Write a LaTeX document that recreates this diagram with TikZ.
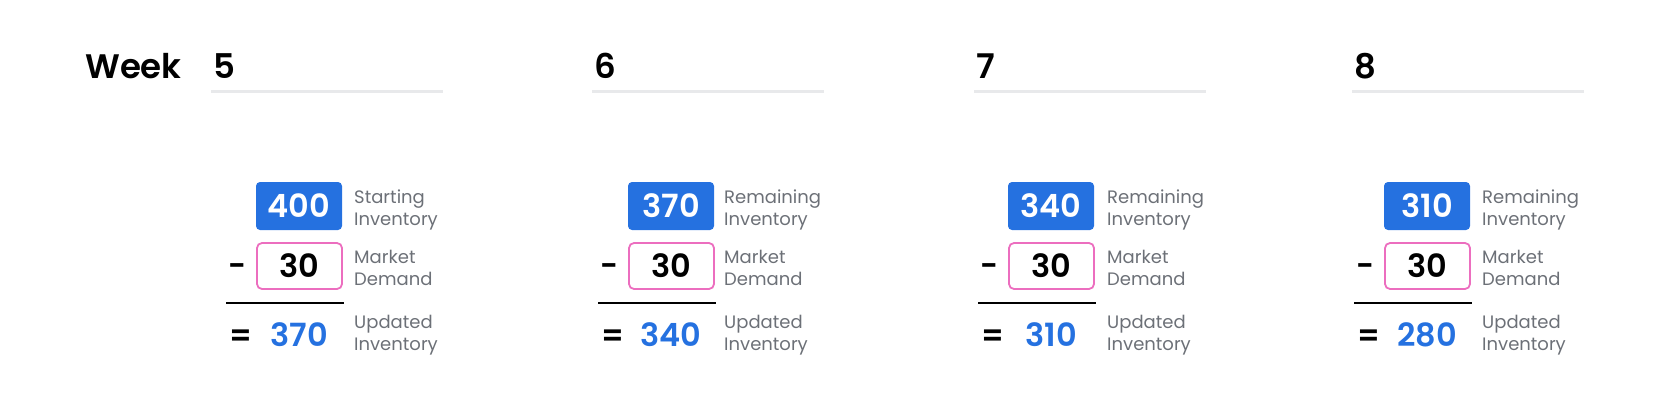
\documentclass[tikz,border=0pt]{standalone}
\usepackage{fontspec}
\setmainfont{Poppins}
\newfontfamily\numfont{Poppins SemiBold}
\definecolor{myblue}{HTML}{2571E0}
\definecolor{mypink}{HTML}{EC6EBF}
\definecolor{rulegray}{HTML}{E8E9EB}
\definecolor{lblgray}{HTML}{6C7077}
\begin{document}
\begin{tikzpicture}[x=1pt,y=-1pt,
  head/.style={font=\numfont\fontsize{34}{34}\selectfont, anchor=base west, inner sep=0pt},
  startbox/.style={fill=myblue, rounded corners=4pt, minimum width=86pt, minimum height=48pt,
    text=white, font=\numfont\fontsize{32}{32}\selectfont, inner sep=0pt},
  demandbox/.style={draw=mypink, line width=1.8pt, rounded corners=5pt, minimum width=85pt,
    minimum height=46pt, text=black, font=\numfont\fontsize{32}{32}\selectfont, inner sep=0pt},
  resnum/.style={text=myblue, font=\numfont\fontsize{32}{32}\selectfont, anchor=base, inner sep=0pt},
  opsign/.style={font=\numfont\fontsize{31}{31}\selectfont, anchor=base west, inner sep=0pt},
  lbl/.style={font=\fontsize{18}{22}\selectfont, text=lblgray, align=left, anchor=base west, inner sep=0pt},
  weekrule/.style={draw=rulegray, line width=3.2pt},
  sumrule/.style={draw=black, line width=1.8pt}
]
\useasboundingbox (0,0) rectangle (1660,420);
\node[head] (week) at (85,78) {Week};
\foreach \i/\g/\b/\l/\t/\wk/\st/\re/\lab in {
   1/211/256/226/354/5/400/370/Starting,
   2/592/628/598/724/6/370/340/Remaining,
   3/974/1008/978/1107/7/340/310/Remaining,
   4/1352/1384/1354/1482/8/310/280/Remaining}{
  \node[head] (wk\i) at (\g+2,78) {\wk};
  \coordinate (ga\i) at (\g,91.5);
  \coordinate (gb\i) at (\g+232,91.5);
  \draw[weekrule] (ga\i) -- (gb\i);
  \node[startbox] (s\i) at (\b+43,206) {\st};
  \node[lbl] (sl\i) at (\t,225) {\lab\\Inventory};
  \node[opsign] (minus\i) at (\l+2,276) {-};
  \node[demandbox] (d\i) at (\b+43.5,266) {30};
  \node[lbl] (dl\i) at (\t,285) {Market\\Demand};
  \coordinate (la\i) at (\l,303);
  \coordinate (lb\i) at (\l+118,303);
  \draw[sumrule] (la\i) -- (lb\i);
  \node[opsign] (eq\i) at (\l+3,346) {=};
  \node[resnum] (r\i) at (\b+43,346) {\re};
  \node[lbl] (rl\i) at (\t,350) {Updated\\Inventory};
}
\end{tikzpicture}
\end{document}
